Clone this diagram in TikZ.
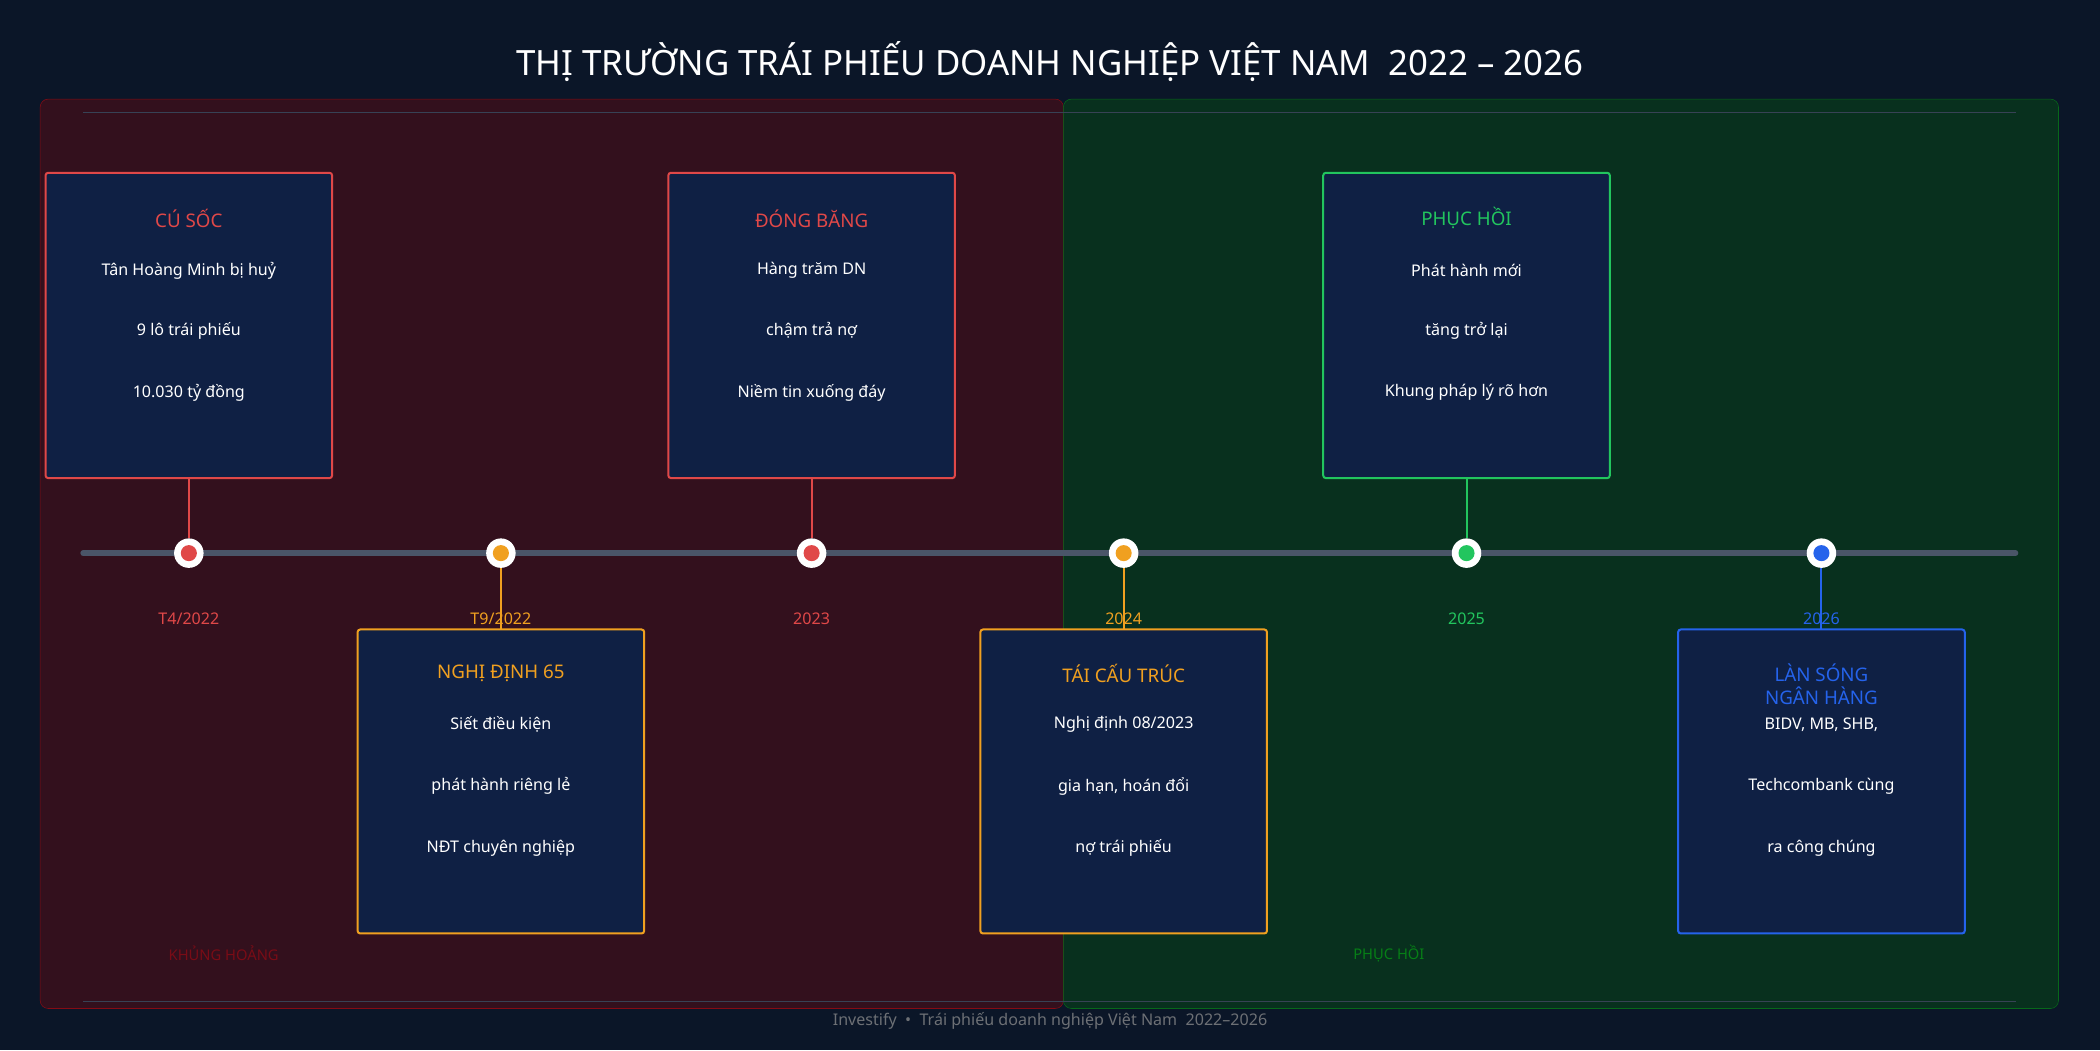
\documentclass[tikz,border=0pt]{standalone}
\usepackage{fontspec}
\setmainfont{Noto Sans}
\definecolor{bg}{HTML}{0B1628}
\definecolor{cred}{HTML}{E04848}
\definecolor{corg}{HTML}{F0A020}
\definecolor{cgrn}{HTML}{22C55E}
\definecolor{cblu}{HTML}{2563EB}
\definecolor{boxf}{HTML}{0F2044}
\definecolor{lineg}{HTML}{4A5568}
\begin{document}
\begin{tikzpicture}[x=1pt,y=-1pt,
 card/.style={draw=#1,line width=1.5pt,fill=boxf,rounded corners=2pt},
 ttl/.style={font=\bfseries\fontsize{14}{16}\selectfont,text=#1,align=center},
 txt/.style={font=\fontsize{12}{14}\selectfont,text=white},
 yr/.style={font=\bfseries\fontsize{12}{14}\selectfont,text=#1},
 conn/.style={draw=#1,line width=1.5pt}]
\fill[bg] (0,0) rectangle (1568,784);
\useasboundingbox (0,0) rectangle (1568,784);
\draw[fill=red!40!bg!85!black,draw=red!50!bg,rounded corners=6pt,fill opacity=0.5] (30,74) rectangle (794,753);
\draw[fill=green!30!bg!80!black,draw=green!35!bg,rounded corners=6pt,fill opacity=0.5] (794,74) rectangle (1537,753);
\draw[lineg!70!bg,line width=0.8pt] (62,84) -- (1505,84);
\draw[lineg!70!bg,line width=0.8pt] (62,748) -- (1505,748);
\node[font=\bfseries\fontsize{26}{30}\selectfont,text=white] (title) at (784,46) {THỊ TRƯỜNG TRÁI PHIẾU DOANH NGHIỆP VIỆT NAM\ \ 2022 – 2026};
\coordinate (tl) at (62,413); \coordinate (tr) at (1505,413);
\draw[lineg,line width=4pt,line cap=round] (tl) -- (tr);
% upper cards
\foreach \n/\x/\c/\t/\a/\b/\d in {c1/141/cred/{CÚ SỐC}/{Tân Hoàng Minh bị huỷ}/{9 lô trái phiếu}/{10.030 tỷ đồng},
 c3/606/cred/{ĐÓNG BĂNG}/{Hàng trăm DN}/{chậm trả nợ}/{Niềm tin xuống đáy},
 c5/1095/cgrn/{PHỤC HỒI}/{Phát hành mới}/{tăng trở lại}/{Khung pháp lý rõ hơn}}{
 \draw[card=\c] (\x-107,129) rectangle (\x+107,357);
 \coordinate (\n b) at (\x,357);
 \node[ttl=\c] at (\x,163) {\t};
 \node[txt] at (\x,202) {\a};
 \node[txt] at (\x,247) {\b};
 \node[txt] at (\x,293) {\d};
}
\foreach \n/\x/\c/\t/\a/\b/\d in {c2/374/corg/{NGHỊ ĐỊNH 65}/{Siết điều kiện}/{phát hành riêng lẻ}/{NĐT chuyên nghiệp},
 c4/839/corg/{TÁI CẤU TRÚC}/{Nghị định 08\slash 2023}/{gia hạn, hoán đổi}/{nợ trái phiếu}}{
 \draw[card=\c] (\x-107,470) rectangle (\x+107,697);
 \coordinate (\n t) at (\x,470);
 \node[ttl=\c] at (\x,503) {\t};
 \node[txt] at (\x,541) {\a};
 \node[txt] at (\x,587) {\b};
 \node[txt] at (\x,633) {\d};
}
\draw[card=cblu] (1253,470) rectangle (1467,697);
\coordinate (c6t) at (1360,470);
\node[ttl=cblu,font=\bfseries\fontsize{14}{17}\selectfont] at (1360,511) {LÀN SÓNG\\NGÂN HÀNG};
\node[txt] at (1360,541) {BIDV, MB, SHB,};
\node[txt] at (1360,587) {Techcombank cùng};
\node[txt] at (1360,633) {ra công chúng};
% dots
\foreach \n/\x/\c/\l in {c1/141/cred/{T4\slash 2022},c2/374/corg/{T9\slash 2022},c3/606/cred/2023,c4/839/corg/2024,c5/1095/cgrn/2025,c6/1360/cblu/2026}{
 \node[circle,fill=white,minimum size=22pt,inner sep=0] (d\n) at (\x,413) {};
 \node[circle,fill=\c,minimum size=12pt,inner sep=0] at (\x,413) {};
 \node[yr=\c] (y\n) at (\x,462) {\l};
}
\draw[conn=cred] (c1b) -- (dc1);
\draw[conn=cred] (c3b) -- (dc3);
\draw[conn=cgrn] (c5b) -- (dc5);
\draw[conn=corg] (dc2) -- (c2t);
\draw[conn=corg] (dc4) -- (c4t);
\draw[conn=cblu] (dc6) -- (c6t);
\node[font=\bfseries\fontsize{11}{13}\selectfont,text=red!45!bg] (p1) at (167,712) {KHỦNG HOẢNG};
\node[font=\bfseries\fontsize{11}{13}\selectfont,text=green!45!bg] (p2) at (1037,712) {PHỤC HỒI};
\node[font=\fontsize{12}{14}\selectfont,text=gray!70!bg!90!white] (foot) at (784,762) {Investify\ \ •\ \ Trái phiếu doanh nghiệp Việt Nam\ \ 2022–2026};
\end{tikzpicture}
\end{document}
